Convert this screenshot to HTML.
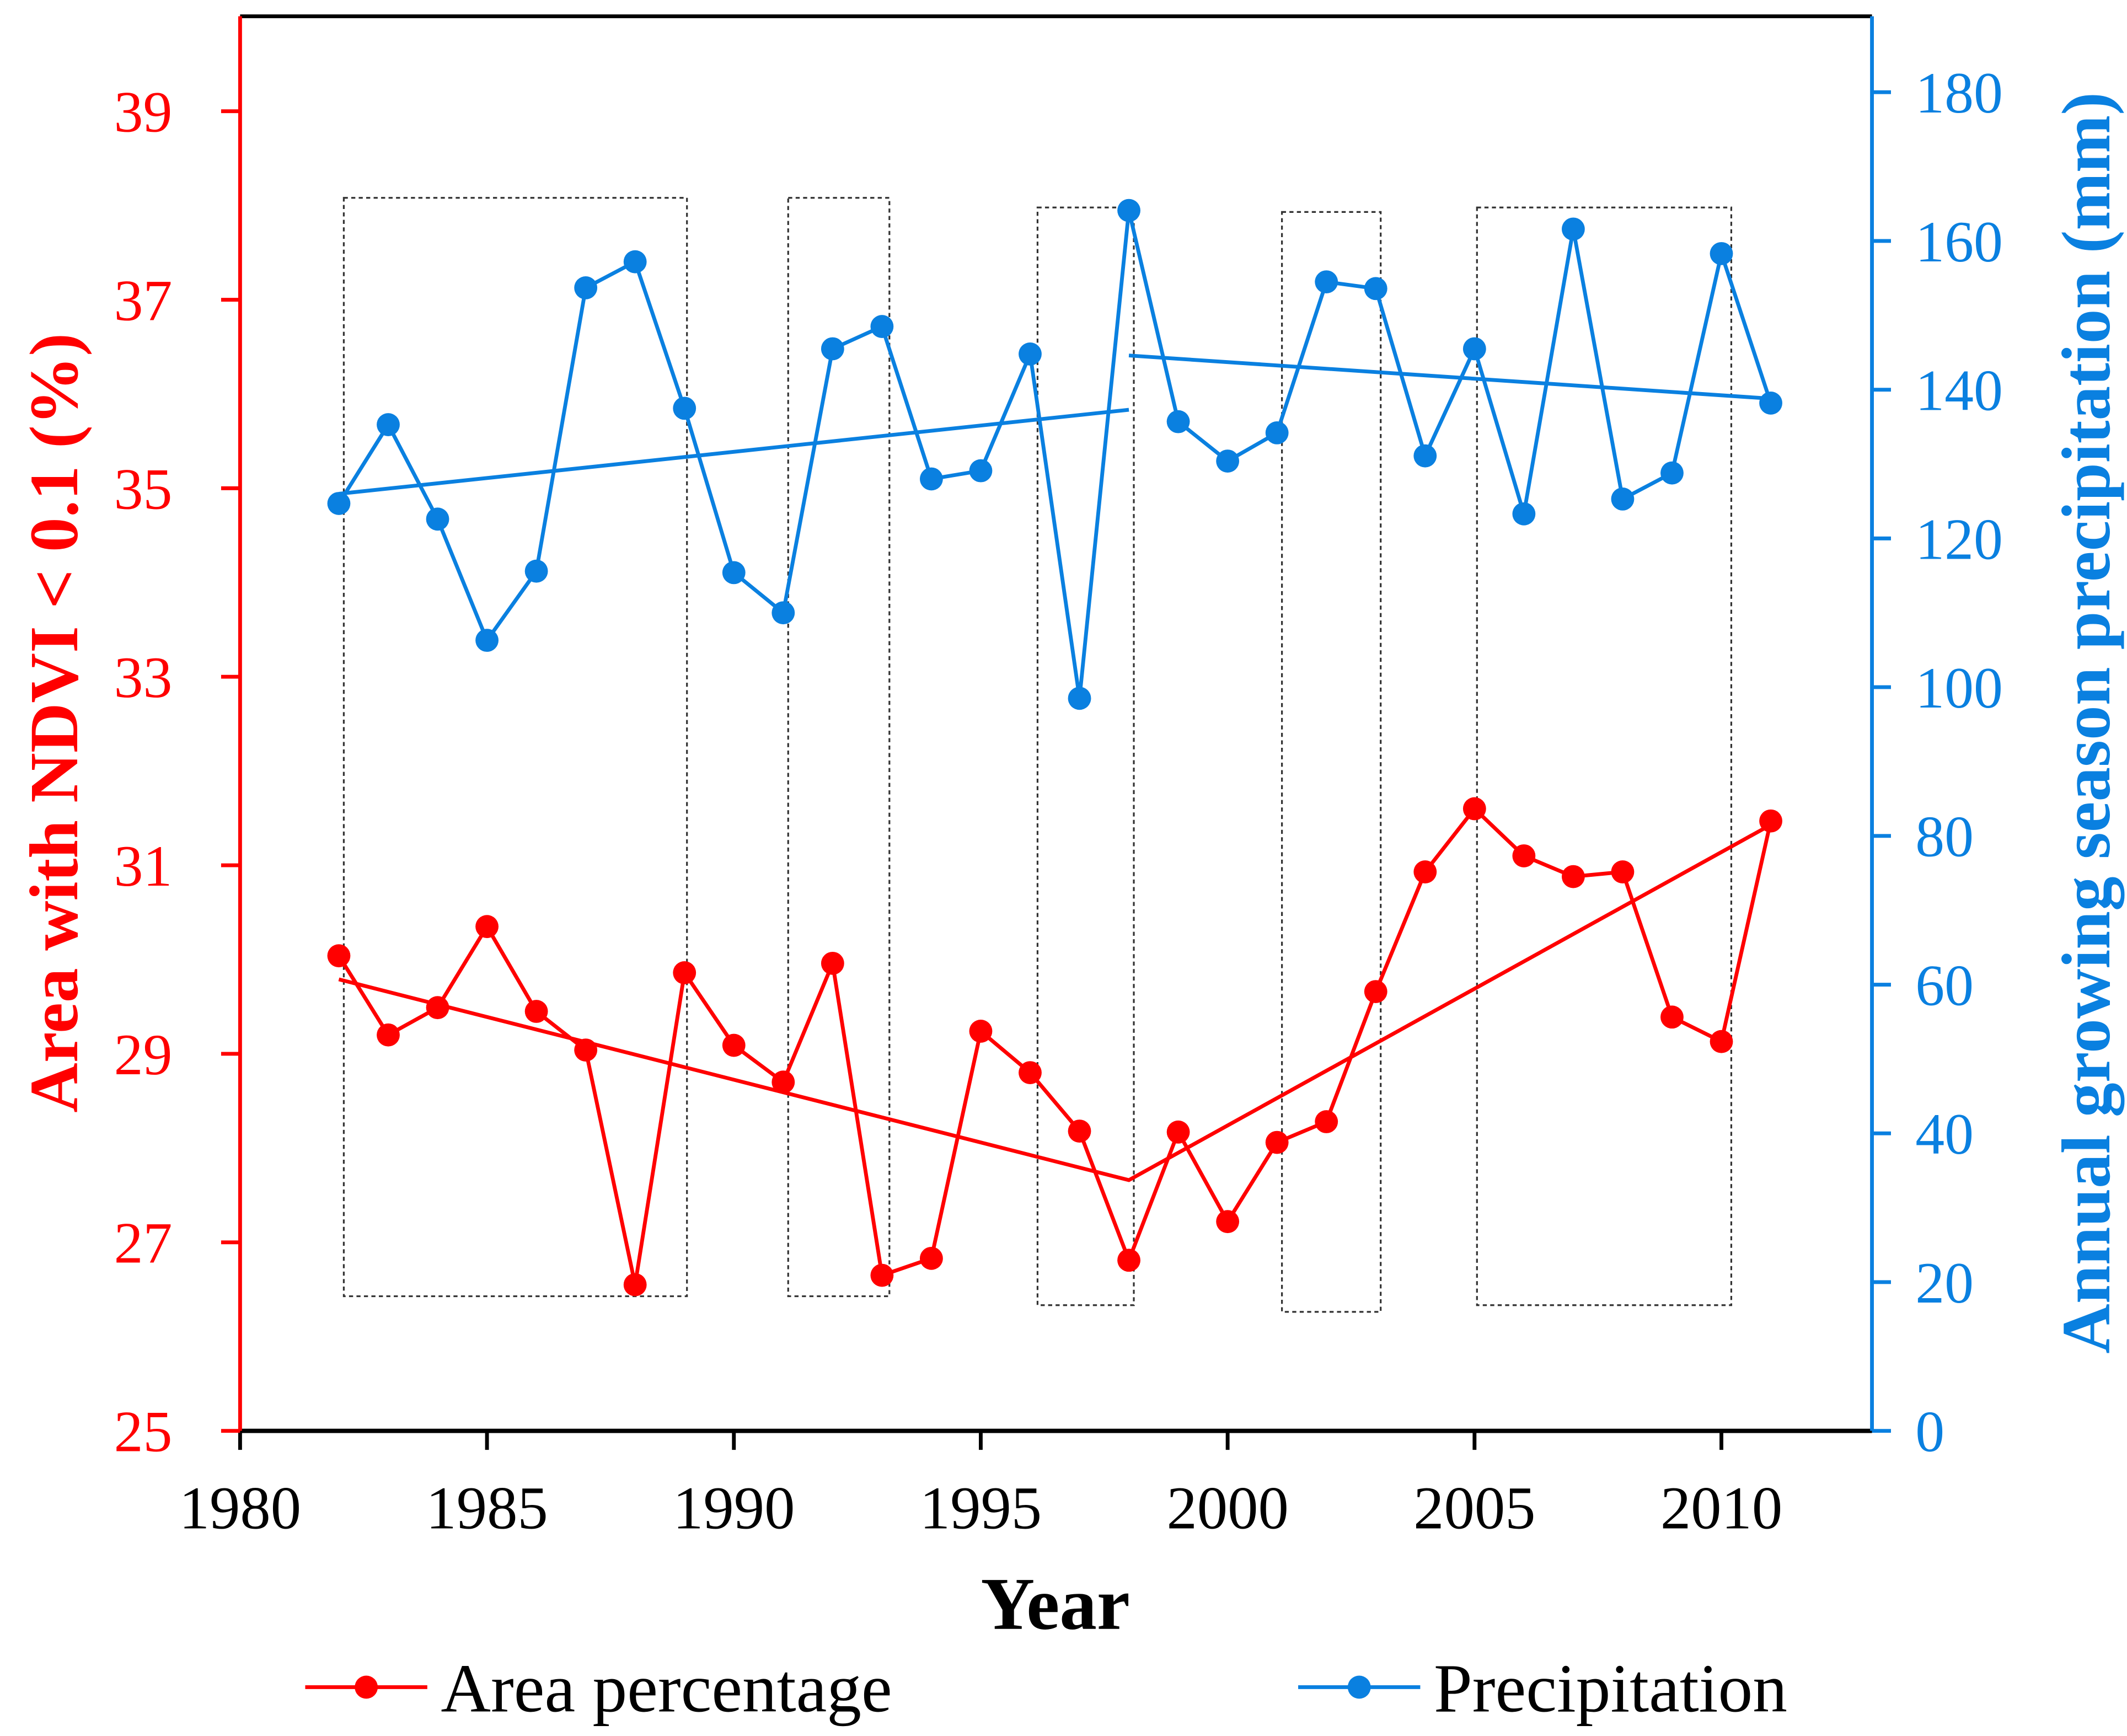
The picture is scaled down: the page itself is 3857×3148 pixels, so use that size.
<!DOCTYPE html>
<html><head><meta charset="utf-8"><style>
html,body{margin:0;padding:0;background:#fff}
svg{display:block}
text{font-family:"Liberation Serif",serif}
</style></head><body>
<svg id="chart" width="3857" height="3148" viewBox="0 0 1568 1280" preserveAspectRatio="none" xmlns="http://www.w3.org/2000/svg"></svg>
<script>
const years=[1982,1983,1984,1985,1986,1987,1988,1989,1990,1991,1992,1993,1994,1995,1996,1997,1998,1999,2000,2001,2002,2003,2004,2005,2006,2007,2008,2009,2010,2011];
const areaPct=[30.04,29.20,29.49,30.35,29.45,29.04,26.55,29.86,29.09,28.70,29.96,26.65,26.83,29.24,28.80,28.18,26.81,28.17,27.22,28.06,28.28,29.66,30.93,31.60,31.10,30.88,30.93,29.39,29.13,31.47];
const precip=[124.7,135.3,122.6,106.3,115.6,153.7,157.2,137.5,115.4,110.0,145.5,148.5,128.0,129.1,144.8,98.5,164.1,135.7,130.4,134.2,154.5,153.6,131.1,145.5,123.3,161.6,125.3,128.8,158.3,138.2];
const areaTrendX=[1982,1998,2011];
const areaTrendY=[29.79,27.66,31.43];
const precipTrend1X=[1982,1998], precipTrend1Y=[126.0,137.3];
const precipTrend2X=[1998,2011], precipTrend2Y=[144.6,138.8];
const boxX0=[1982.1,1991.1,1996.15,2001.1,2005.05];
const boxX1=[1989.05,1993.15,1998.1,2003.1,2010.2];
const boxTop=[165.8,165.8,164.5,163.9,164.5];
const boxBot=[18.1,18.1,16.9,16.0,16.9];
const xTicks=[1980,1985,1990,1995,2000,2005,2010];
const leftTicks=[25,27,29,31,33,35,37,39];
const rightTicks=[0,20,40,60,80,100,120,140,160,180];

const L=177,R=1380,T=12,B=1055;
const X=v=>L+(v-1980)*(1269-177)/30;
const YL=v=>B-(v-25)*(B-82)/14;
const YR=v=>B-v*(B-68)/180;
const RED='#ff0000',BLUE='#0a80e0';
const svg=document.getElementById('chart');
const NS='http://www.w3.org/2000/svg';
function el(tag,attrs,parent){const e=document.createElementNS(NS,tag);for(const k in attrs)e.setAttribute(k,attrs[k]);(parent||svg).appendChild(e);return e;}

boxX0.forEach((x0,i)=>{
  const r=el('rect',{x:X(x0),y:YR(boxTop[i]),width:X(boxX1[i])-X(x0),height:YR(boxBot[i])-YR(boxTop[i]),fill:'none',stroke:'#333','stroke-width':1.3,'stroke-dasharray':'3,2.5'});
  
  
});
let a=el('line',{x1:L,y1:T,x2:R,y2:T,stroke:'#000','stroke-width':2.8});

a=el('line',{x1:L,y1:B,x2:R,y2:B,stroke:'#000','stroke-width':3.2});

a=el('line',{x1:L,y1:T,x2:L,y2:B,stroke:RED,'stroke-width':2.8});

a=el('line',{x1:R,y1:T,x2:R,y2:B,stroke:BLUE,'stroke-width':2.8});


xTicks.forEach(v=>{
  el('line',{x1:X(v),y1:B,x2:X(v),y2:B+14,stroke:'#000','stroke-width':2.8});
  const t=el('text',{x:X(v),y:B+72,'font-size':45,'text-anchor':'middle',fill:'#000'});t.textContent=v;
  
});
leftTicks.forEach(v=>{
  el('line',{x1:L-14,y1:YL(v),x2:L,y2:YL(v),stroke:RED,'stroke-width':2.8});
  const t=el('text',{x:L-50,y:YL(v)+15,'font-size':43,'text-anchor':'end',fill:RED});t.textContent=v;
  
});
rightTicks.forEach(v=>{
  el('line',{x1:R,y1:YR(v),x2:R+14,y2:YR(v),stroke:BLUE,'stroke-width':2.8});
  const t=el('text',{x:R+32,y:YR(v)+15,'font-size':43,'text-anchor':'start',fill:BLUE});t.textContent=v;
  
});

let p=el('polyline',{points:areaTrendX.map((x,i)=>X(x)+','+YL(areaTrendY[i])).join(' '),fill:'none',stroke:RED,'stroke-width':2.8});

p=el('polyline',{points:precipTrend1X.map((x,i)=>X(x)+','+YR(precipTrend1Y[i])).join(' '),fill:'none',stroke:BLUE,'stroke-width':2.8});

p=el('polyline',{points:precipTrend2X.map((x,i)=>X(x)+','+YR(precipTrend2Y[i])).join(' '),fill:'none',stroke:BLUE,'stroke-width':2.8});


p=el('polyline',{points:years.map((x,i)=>X(x)+','+YL(areaPct[i])).join(' '),fill:'none',stroke:RED,'stroke-width':2.8});

p=el('polyline',{points:years.map((x,i)=>X(x)+','+YR(precip[i])).join(' '),fill:'none',stroke:BLUE,'stroke-width':2.8});

years.forEach((x,i)=>{
  let c=el('circle',{cx:X(x),cy:YL(areaPct[i]),r:8.5,fill:RED});
  
  c=el('circle',{cx:X(x),cy:YR(precip[i]),r:8.5,fill:BLUE});
  
});

let t=el('text',{x:778,y:1201,'font-size':55,'font-weight':'bold','text-anchor':'middle',fill:'#000'});t.textContent='Year';

t=el('text',{x:0,y:0,'font-size':51,'font-weight':'bold','text-anchor':'middle',fill:RED,transform:'translate(57,533) rotate(-90)'});t.textContent='Area with NDVI < 0.1 (%)';

t=el('text',{x:0,y:0,'font-size':51,'font-weight':'bold','text-anchor':'middle',fill:BLUE,transform:'translate(1555,533) rotate(-90)'});t.textContent='Annual growing season precipitation (mm)';


let g=el('g',{});
el('line',{x1:225,y1:1244,x2:315,y2:1244,stroke:RED,'stroke-width':2.8},g);
el('circle',{cx:270,cy:1244,r:8.5,fill:RED},g);
t=el('text',{x:325,y:1262,'font-size':51,fill:'#000'},g);t.textContent='Area percentage';
g=el('g',{});
el('line',{x1:957,y1:1244,x2:1047,y2:1244,stroke:BLUE,'stroke-width':2.8},g);
el('circle',{cx:1002,cy:1244,r:8.5,fill:BLUE},g);
t=el('text',{x:1057,y:1262,'font-size':51,fill:'#000'},g);t.textContent='Precipitation';
</script>
</body></html>
